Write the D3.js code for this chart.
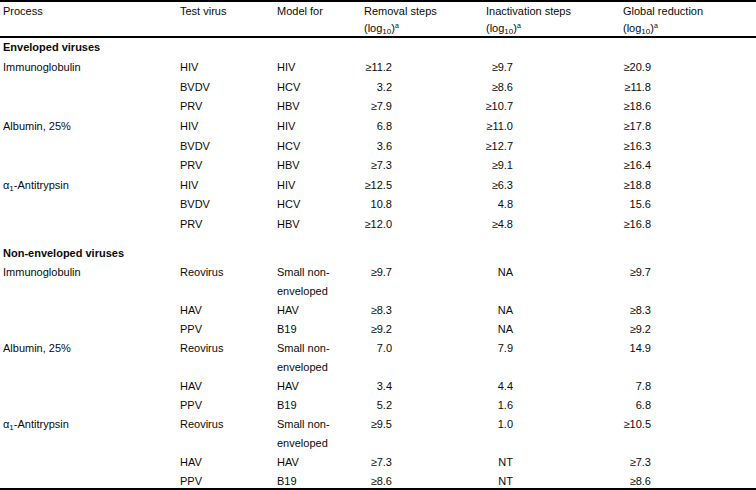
<!DOCTYPE html>
<html>
<head>
<meta charset="utf-8">
<script src="https://cdn.jsdelivr.net/npm/d3@7"></script>
<style>
    body { margin: 0; background: #fff; }
    svg { display: block; }
    text { font-family: "Liberation Sans", Arial, sans-serif; font-size: 11px; fill: #0a0a0a; }
    .rule { stroke: #000; stroke-width: 2; }
</style>
</head>
<body>
<svg width="756" height="490"></svg>
<script>
// table content
let headerTop = ["Process", "Test virus", "Model for", "Removal steps", "Inactivation steps", "Global reduction"];
let sections = ["Enveloped viruses", "Non-enveloped viruses"];
let processes = ["Immunoglobulin", "Albumin, 25%", "α1-Antitrypsin"];

let envViruses = ["HIV", "BVDV", "PRV"];
let envModels = [["HIV"], ["HCV"], ["HBV"]];
let envRemoval = ["≥11.2", "3.2", "≥7.9", "6.8", "3.6", "≥7.3", "≥12.5", "10.8", "≥12.0"];
let envInactivation = ["≥9.7", "≥8.6", "≥10.7", "≥11.0", "≥12.7", "≥9.1", "≥6.3", "4.8", "≥4.8"];
let envGlobal = ["≥20.9", "≥11.8", "≥18.6", "≥17.8", "≥16.3", "≥16.4", "≥18.8", "15.6", "≥16.8"];

let nonEnvViruses = ["Reovirus", "HAV", "PPV"];
let nonEnvModels = [["Small non-", "enveloped"], ["HAV"], ["B19"]];
let nonEnvRemoval = ["≥9.7", "≥8.3", "≥9.2", "7.0", "3.4", "5.2", "≥9.5", "≥7.3", "≥8.6"];
let nonEnvInactivation = ["NA", "NA", "NA", "7.9", "4.4", "1.6", "1.0", "NT", "NT"];
let nonEnvGlobal = ["≥9.7", "≥8.3", "≥9.2", "14.9", "7.8", "6.8", "≥10.5", "≥7.3", "≥8.6"];

let svg = d3.select("svg");
let width = +svg.attr("width");

let columns = ["process", "virus", "model", "removal", "inactivation", "global"];
let colX = d3.scaleOrdinal().domain(columns).range([3, 180, 277, 392, 513, 651]);
let headX = d3.scaleOrdinal().domain(columns).range([3, 180, 277, 364, 486, 623]);
let numeric = ["removal", "inactivation", "global"];

// line positions (baselines)
let yHead = d3.scaleLinear().domain([0, 1]).range([15, 32]);
let ySection = d3.scaleOrdinal().domain(sections).range([51, 257]);
let yEnv = d3.scaleLinear().domain([0, 8]).range([71, 228]);
let yNonEnv = d3.scaleLinear().domain([0, 11]).range([276, 485]);

// rules
svg.selectAll("line.rule")
    .data([1, 37, 489])
    .enter()
    .append("line")
    .attr("class", "rule")
    .attr("x1", 0).attr("x2", width)
    .attr("y1", d => d).attr("y2", d => d);

// header
let head = svg.append("g");
headerTop.forEach(function (label, i) {
    head.append("text")
        .attr("x", headX(columns[i]))
        .attr("y", yHead(0))
        .text(label);
    if (i >= 3) {
        let t = head.append("text")
            .attr("x", headX(columns[i]))
            .attr("y", yHead(1));
        t.append("tspan").text("(log");
        t.append("tspan").attr("dy", 2).style("font-size", "8px").text("10");
        t.append("tspan").attr("dy", -2).text(")");
        t.append("tspan").attr("dy", -4).style("font-size", "7px").text("a");
    }
});

function processLabel(sel, name) {
    if (name.startsWith("α1")) {
        sel.append("tspan").text("α");
        sel.append("tspan").attr("dy", 2).style("font-size", "8px").text("1");
        sel.append("tspan").attr("dy", -2).text(name.slice(2));
    } else {
        sel.text(name);
    }
}

function drawSection(sectionName, viruses, models, removal, inactivation, global, yScale) {
    let g = svg.append("g");
    g.append("text")
        .attr("x", 3)
        .attr("y", ySection(sectionName))
        .style("font-weight", "bold")
        .text(sectionName);

    // flatten into rows with a line index
    let rows = [];
    let line = 0;
    processes.forEach(function (p, pi) {
        viruses.forEach(function (v, vi) {
            let k = pi * viruses.length + vi;
            rows.push({
                line: line,
                process: vi === 0 ? p : null,
                virus: v,
                model: models[vi],
                removal: removal[k],
                inactivation: inactivation[k],
                global: global[k]
            });
            line += models[vi].length;
        });
    });

    let row = g.selectAll("g.row")
        .data(rows)
        .enter()
        .append("g")
        .attr("class", "row");

    row.filter(d => d.process)
        .append("text")
        .attr("x", colX("process"))
        .attr("y", d => yScale(d.line))
        .each(function (d) { processLabel(d3.select(this), d.process); });

    row.append("text")
        .attr("x", colX("virus"))
        .attr("y", d => yScale(d.line))
        .text(d => d.virus);

    row.each(function (d) {
        d3.select(this).selectAll("text.model")
            .data(d.model)
            .enter()
            .append("text")
            .attr("class", "model")
            .attr("x", colX("model"))
            .attr("y", (m, i) => yScale(d.line + i))
            .text(m => m);
    });

    numeric.forEach(function (c) {
        row.append("text")
            .attr("x", colX(c))
            .attr("y", d => yScale(d.line))
            .attr("text-anchor", "end")
            .text(d => d[c]);
    });
}

drawSection(sections[0], envViruses, envModels, envRemoval, envInactivation, envGlobal, yEnv);
drawSection(sections[1], nonEnvViruses, nonEnvModels, nonEnvRemoval, nonEnvInactivation, nonEnvGlobal, yNonEnv);
</script>
</body>
</html>
